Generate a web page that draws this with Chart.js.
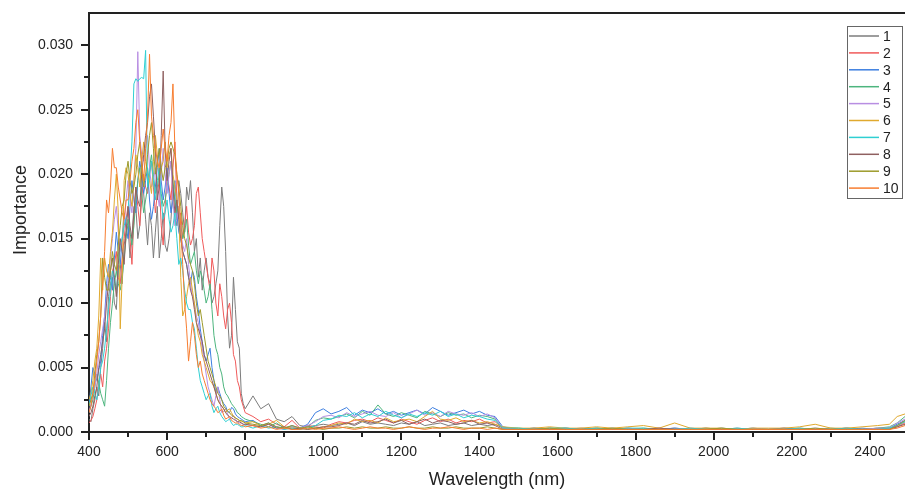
<!DOCTYPE html>
<html>
<head>
<meta charset="utf-8">
<script src="https://cdn.jsdelivr.net/npm/chart.js@4.4.1/dist/chart.umd.min.js"></script>
<style>
  html, body { margin: 0; padding: 0; background: #fff; overflow: hidden; }
  #wrap { width: 905px; height: 491px; }
</style>
</head>
<body>
<div id="wrap"><canvas id="spectra"></canvas></div>
<script>
// WAVELENGTHS (nm), shared by all series
const wavelengths = [
  400, 405, 410, 415, 420, 425, 430, 435, 440, 445,
  450, 455, 460, 465, 470, 475, 480, 485, 490, 495,
  500, 505, 510, 515, 520, 525, 530, 535, 540, 545,
  550, 555, 560, 565, 570, 575, 580, 585, 590, 595,
  600, 605, 610, 615, 620, 625, 630, 635, 640, 645,
  650, 655, 660, 665, 670, 675, 680, 685, 690, 695,
  700, 705, 710, 715, 720, 725, 730, 735, 740, 745,
  750, 755, 760, 765, 770, 775, 780, 785, 790, 795,
  800,
  820, 840, 860, 880, 900, 920, 940, 960, 980, 1000,
  1020, 1040, 1060, 1080, 1100, 1120, 1140, 1160, 1180, 1200, 1220,
  1240, 1260, 1280, 1300, 1320, 1340, 1360, 1380, 1400, 1420, 1440,
  1460,
  1500, 1540, 1580, 1620, 1660, 1700, 1740, 1780, 1820, 1860, 1900, 1940,
  1980, 2020, 2060, 2100, 2140, 2180, 2220, 2260, 2300, 2340, 2380, 2420,
  2450, 2470, 2490,
];

// IMPORTANCE VALUES, in units of 0.001
const imp1 = [
  1.0, 0.8, 1.8, 2.5, 3.5, 2.8, 5.0, 6.5, 8.5, 7.0,
  10.5, 11.5, 12.0, 10.0, 9.5, 12.5, 13.0, 11.5, 14.5, 15.5,
  16.0, 13.5, 15.0, 17.5, 17.5, 15.0, 16.0, 19.0, 18.5, 16.5,
  14.5, 17.0, 16.0, 13.5, 15.5, 17.5, 13.5, 15.0, 17.0, 14.5,
  14.0, 15.0, 16.5, 19.0, 18.0, 16.0, 19.5, 18.5, 17.0, 15.5,
  19.0, 18.0, 19.5, 17.0, 14.0, 15.0, 12.0, 13.5, 11.0, 12.5,
  13.5, 12.0, 11.5, 10.0, 10.5, 11.5, 12.5, 16.0, 19.0, 17.5,
  14.0, 9.0, 6.5, 7.5, 12.0, 9.5, 7.0, 6.5, 3.0, 2.2,
  1.8,
  2.8, 1.8, 2.2, 1.0, 0.8, 1.2, 0.5, 0.4, 0.5, 0.6,
  0.5, 0.6, 0.7, 0.5, 0.8, 0.6, 0.7, 0.6, 0.5, 0.7, 0.6,
  0.8, 0.5, 0.6, 0.7, 0.5, 0.6, 0.7, 0.5, 0.6, 0.5, 0.6,
  0.3,
  0.2, 0.3, 0.2, 0.2, 0.3, 0.2, 0.2, 0.3, 0.2, 0.2, 0.3, 0.2,
  0.2, 0.2, 0.3, 0.2, 0.2, 0.2, 0.3, 0.2, 0.2, 0.3, 0.2, 0.3,
  0.3, 0.5, 0.8,
];
const imp2 = [
  0.7, 0.9, 1.2, 1.8, 2.5, 3.8, 4.5, 3.5, 5.5, 6.5,
  8.0, 10.5, 12.5, 13.0, 14.0, 12.0, 11.5, 13.5, 15.0, 16.5,
  17.5, 15.0, 13.0, 16.5, 19.0, 17.5, 16.0, 18.0, 20.0, 19.0,
  18.5, 20.0, 21.0, 19.0, 17.0, 18.5, 19.5, 16.0, 14.5, 17.5,
  20.0, 19.0, 18.0, 20.5, 22.5, 18.0, 16.5, 17.0, 15.0, 16.0,
  17.5, 15.5, 14.5, 15.0, 16.0, 18.5, 19.0, 17.0, 15.0, 14.0,
  13.0, 12.0, 11.0, 13.5, 12.5, 10.0, 9.0, 11.5, 10.5, 9.0,
  8.0, 9.5, 10.0, 8.5, 6.0, 5.5, 4.0, 3.5, 2.5, 2.0,
  1.5,
  1.2, 0.8, 1.0, 0.6, 0.4, 0.9, 0.3, 0.5, 0.4, 0.3,
  0.6, 0.8, 0.7, 0.9, 1.0, 0.8, 1.1, 0.9, 0.7, 1.0, 0.8,
  0.6, 0.9, 1.1, 0.8, 1.0, 0.7, 0.9, 0.8, 1.0, 0.7, 0.8,
  0.3,
  0.2, 0.2, 0.3, 0.2, 0.2, 0.3, 0.2, 0.2, 0.2, 0.3, 0.2, 0.2,
  0.3, 0.2, 0.2, 0.2, 0.2, 0.3, 0.2, 0.2, 0.2, 0.3, 0.2, 0.2,
  0.3, 0.4, 0.7,
];
const imp3 = [
  2.0, 3.5, 5.0, 4.5, 4.0, 4.8, 5.5, 7.5, 9.0, 11.5,
  13.0, 12.0, 11.0, 13.5, 15.5, 14.0, 13.0, 15.0, 17.0, 16.0,
  15.0, 17.5, 19.5, 18.0, 17.0, 19.5, 21.0, 20.0, 18.5, 19.5,
  20.5, 18.0, 16.5, 17.5, 19.0, 20.5, 22.0, 19.5, 18.0, 19.0,
  20.5, 18.5, 17.0, 18.0, 19.5, 17.0, 15.5, 15.0, 14.0, 13.5,
  13.0, 12.0, 11.5, 12.5, 12.0, 10.5, 9.5, 8.0, 7.0, 6.0,
  5.5, 6.0, 6.5, 5.0, 4.0, 3.0, 3.5, 3.0, 2.5, 2.2,
  2.0, 1.6, 1.5, 1.9, 1.8, 1.4, 1.2, 1.1, 1.0, 0.9,
  0.8,
  0.9, 0.5, 0.7, 0.4, 0.3, 0.5, 0.3, 0.6, 1.5, 1.8,
  1.4, 1.6, 1.9, 1.3, 1.7, 1.5, 1.8, 1.4, 1.6, 1.3, 1.5,
  1.7, 1.4, 1.9, 1.6, 1.3, 1.5, 1.7, 1.4, 1.6, 1.3, 1.2,
  0.4,
  0.2, 0.3, 0.2, 0.3, 0.2, 0.2, 0.3, 0.2, 0.2, 0.2, 0.3, 0.2,
  0.2, 0.3, 0.2, 0.2, 0.2, 0.3, 0.2, 0.2, 0.2, 0.2, 0.3, 0.2,
  0.3, 0.6, 0.9,
];
const imp4 = [
  1.5, 2.0, 2.5, 3.5, 4.5, 3.8, 3.0, 2.5, 2.0, 4.0,
  6.5, 8.5, 10.0, 11.5, 12.5, 11.5, 11.0, 12.0, 13.5, 15.0,
  16.5, 15.5, 14.5, 16.0, 18.0, 19.5, 20.5, 18.5, 17.0, 18.0,
  19.0, 20.5, 21.5, 20.0, 18.5, 19.0, 20.0, 18.5, 17.5, 18.0,
  19.0, 20.0, 21.0, 19.5, 18.0, 17.0, 17.5, 16.0, 15.0, 15.5,
  16.5, 14.5, 13.0, 13.5, 14.0, 12.5, 11.5, 12.5, 12.0, 11.0,
  10.0, 10.5, 11.5, 9.5, 7.5, 6.5, 6.0, 5.0, 4.5, 3.5,
  3.0, 2.8, 2.5, 2.2, 2.0, 1.8, 1.5, 1.4, 1.2, 1.1,
  1.0,
  0.8, 0.6, 0.4, 0.7, 0.3, 0.4, 0.2, 0.4, 0.9, 1.1,
  1.0, 1.2, 1.4, 1.1, 1.6, 1.3, 2.1, 1.4, 1.2, 1.5, 1.3,
  1.1, 1.6, 1.4, 1.2, 1.5, 1.3, 1.4, 1.1, 1.3, 1.2, 1.0,
  0.3,
  0.3, 0.2, 0.2, 0.3, 0.2, 0.3, 0.2, 0.2, 0.3, 0.2, 0.2, 0.2,
  0.3, 0.2, 0.2, 0.3, 0.2, 0.2, 0.2, 0.2, 0.3, 0.2, 0.2, 0.3,
  0.4, 0.7, 1.2,
];
const imp5 = [
  1.5, 2.2, 3.0, 3.5, 4.5, 6.0, 7.0, 8.0, 9.0, 10.5,
  12.0, 13.5, 15.0, 16.5, 17.5, 15.5, 14.0, 15.0, 16.0, 18.0,
  19.5, 18.0, 17.0, 19.5, 22.0, 29.5, 23.0, 21.5, 21.0, 22.0,
  23.0, 20.5, 19.0, 19.5, 20.5, 18.5, 17.5, 20.0, 22.0, 20.0,
  18.5, 20.0, 21.0, 18.0, 16.0, 16.5, 17.5, 15.5, 14.5, 14.0,
  15.0, 13.0, 11.5, 10.5, 10.0, 9.0, 8.5, 7.5, 6.5, 5.5,
  4.5, 3.5, 3.0, 2.5, 2.0, 2.8, 3.5, 2.5, 1.5, 1.6,
  1.8, 1.4, 1.0, 1.1, 1.3, 1.0, 0.8, 0.7, 0.7, 0.6,
  0.6,
  0.5, 0.4, 0.6, 0.3, 0.2, 0.4, 0.3, 0.5, 0.8, 1.2,
  1.3, 1.1, 1.5, 1.2, 1.4, 1.6, 1.3, 1.2, 1.5, 1.1, 1.4,
  1.7, 1.3, 1.5, 1.2, 1.6, 1.4, 1.3, 1.5, 1.2, 1.4, 1.1,
  0.3,
  0.2, 0.2, 0.2, 0.3, 0.2, 0.2, 0.2, 0.3, 0.2, 0.2, 0.2, 0.3,
  0.2, 0.2, 0.2, 0.3, 0.2, 0.2, 0.2, 0.3, 0.2, 0.2, 0.2, 0.3,
  0.3, 0.7, 1.0,
];
const imp6 = [
  2.5, 3.0, 4.0, 5.5, 6.5, 9.0, 13.5, 11.0, 13.5, 12.5,
  12.0, 14.0, 15.5, 18.0, 20.0, 17.0, 8.0, 12.0, 19.5, 20.5,
  20.0, 18.5, 17.5, 19.5, 21.5, 20.5, 19.0, 21.0, 22.5, 21.0,
  20.0, 19.5, 18.5, 21.0, 23.0, 21.5, 19.5, 20.5, 21.0, 22.5,
  20.5, 21.5, 22.0, 20.0, 19.0, 18.0, 17.0, 12.0, 9.0, 9.5,
  10.5, 11.5, 12.0, 11.0, 10.0, 8.5, 7.5, 7.0, 6.0, 5.5,
  5.0, 4.5, 4.0, 3.8, 3.5, 3.0, 2.5, 2.2, 2.0, 1.8,
  1.5, 1.7, 1.8, 1.5, 1.2, 1.1, 1.0, 0.9, 0.8, 0.8,
  0.7,
  0.8, 0.5, 0.6, 0.9, 0.4, 0.3, 0.3, 0.2, 0.3, 0.4,
  0.5, 0.7, 0.6, 1.0, 0.8, 0.9, 0.7, 1.1, 0.8, 0.9, 1.0,
  0.8, 1.2, 1.6, 1.0, 0.9, 1.1, 0.8, 0.9, 0.7, 0.8, 0.6,
  0.4,
  0.3, 0.3, 0.4, 0.3, 0.3, 0.4, 0.3, 0.4, 0.5, 0.3, 0.7, 0.3,
  0.3, 0.3, 0.2, 0.3, 0.3, 0.3, 0.4, 0.6, 0.3, 0.3, 0.4, 0.5,
  0.6, 1.2, 1.4,
];
const imp7 = [
  2.0, 2.8, 3.5, 3.0, 2.5, 3.5, 5.0, 5.5, 6.5, 8.0,
  9.5, 11.0, 12.5, 12.0, 11.0, 12.5, 14.5, 15.0, 16.0, 16.5,
  17.0, 20.0, 22.5, 27.0, 27.4, 27.2, 27.4, 27.5, 27.4, 29.6,
  19.0, 20.0, 21.0, 19.5, 18.0, 19.5, 20.5, 18.0, 16.5, 17.0,
  18.0, 16.5, 15.5, 16.0, 17.0, 15.0, 13.0, 13.5, 12.5, 11.0,
  10.0, 9.5, 9.5, 8.5, 8.0, 6.5, 5.0, 4.0, 3.5, 3.0,
  2.5, 2.8, 3.0, 2.0, 1.5, 1.8, 2.0, 1.5, 1.2, 1.0,
  0.8, 0.9, 1.0, 0.7, 0.5, 0.6, 0.6, 0.5, 0.4, 0.4,
  0.5,
  0.3, 0.5, 0.3, 0.4, 0.2, 0.3, 0.2, 0.3, 0.5, 0.9,
  1.0, 1.3, 1.2, 1.5, 1.1, 1.4, 1.2, 1.6, 1.3, 1.1, 1.4,
  1.2, 1.5, 1.3, 1.6, 1.2, 1.4, 1.1, 1.3, 1.2, 1.0, 0.9,
  0.3,
  0.3, 0.2, 0.3, 0.3, 0.2, 0.3, 0.2, 0.3, 0.3, 0.2, 0.2, 0.3,
  0.2, 0.2, 0.3, 0.2, 0.2, 0.2, 0.3, 0.2, 0.2, 0.3, 0.2, 0.2,
  0.3, 0.5, 0.8,
];
const imp8 = [
  1.2, 1.5, 2.0, 2.8, 3.5, 5.0, 6.0, 7.0, 8.0, 10.0,
  11.5, 12.5, 13.5, 12.0, 10.5, 13.0, 15.0, 14.0, 13.0, 15.5,
  17.5, 16.0, 15.0, 17.0, 19.0, 18.0, 17.5, 20.0, 21.5, 23.0,
  24.0, 26.0, 27.0, 24.5, 22.0, 18.0, 19.0, 23.0, 28.0, 22.0,
  19.5, 21.0, 22.0, 19.0, 17.0, 18.0, 16.5, 15.0, 14.0, 13.5,
  13.0, 12.0, 11.0, 10.5, 9.5, 8.5, 8.0, 7.5, 7.0, 6.0,
  5.5, 5.0, 4.5, 4.0, 3.5, 3.0, 2.5, 2.2, 2.0, 1.8,
  1.5, 1.3, 1.2, 1.1, 1.0, 0.9, 0.8, 0.8, 0.7, 0.6,
  0.6,
  0.5, 0.4, 0.6, 0.3, 0.4, 0.2, 0.3, 0.2, 0.3, 0.4,
  0.4, 0.5, 0.7, 0.6, 0.9, 0.7, 0.8, 1.0, 0.7, 0.9, 0.6,
  0.8, 1.0, 0.7, 0.9, 0.8, 0.6, 0.7, 0.9, 0.6, 0.7, 0.5,
  0.2,
  0.2, 0.2, 0.2, 0.2, 0.2, 0.2, 0.2, 0.2, 0.2, 0.3, 0.2, 0.2,
  0.2, 0.2, 0.2, 0.2, 0.2, 0.2, 0.2, 0.2, 0.2, 0.2, 0.2, 0.2,
  0.2, 0.4, 0.6,
];
const imp9 = [
  2.0, 2.5, 3.0, 4.5, 6.0, 7.0, 9.0, 13.5, 12.0, 11.0,
  11.0, 12.5, 14.0, 13.0, 12.5, 14.5, 16.0, 17.5, 18.0, 20.0,
  21.0, 19.5, 18.5, 19.0, 20.0, 21.5, 22.5, 20.5, 19.0, 20.0,
  21.5, 23.0, 24.0, 22.0, 20.0, 21.0, 22.0, 20.5, 19.5, 20.5,
  21.0, 22.0, 22.5, 22.0, 21.5, 20.0, 19.0, 17.5, 16.0, 15.0,
  14.5, 13.5, 13.0, 12.5, 11.5, 10.0, 9.0, 9.5, 8.5, 7.5,
  6.5, 5.5, 5.0, 4.5, 4.0, 3.5, 3.0, 2.8, 2.5, 2.0,
  1.8, 1.6, 1.5, 1.3, 1.2, 1.1, 1.0, 0.9, 0.9, 0.8,
  0.7,
  0.6, 0.5, 0.7, 0.4, 0.3, 0.5, 0.3, 0.4, 0.3, 0.2,
  0.3, 0.3, 0.4, 0.3, 0.4, 0.3, 0.3, 0.4, 0.3, 0.3, 0.4,
  0.3, 0.3, 0.4, 0.3, 0.3, 0.4, 0.3, 0.3, 0.3, 0.4, 0.3,
  0.2,
  0.2, 0.2, 0.3, 0.2, 0.2, 0.2, 0.3, 0.2, 0.2, 0.2, 0.2, 0.2,
  0.2, 0.3, 0.2, 0.2, 0.2, 0.2, 0.2, 0.3, 0.2, 0.2, 0.2, 0.2,
  0.2, 0.5, 0.9,
];
const imp10 = [
  1.5, 2.0, 3.0, 4.0, 5.5, 7.0, 9.0, 11.5, 14.0, 18.0,
  17.0, 19.0, 22.0, 20.5, 20.5, 19.0, 18.0, 17.0, 16.5, 18.0,
  18.0, 19.5, 21.0, 22.0, 24.0, 25.0, 22.5, 21.0, 19.5, 22.0,
  24.5, 29.3, 24.5, 23.0, 22.0, 21.0, 20.5, 22.0, 23.5, 22.0,
  21.0, 23.0, 24.0, 27.0, 22.0, 20.0, 18.5, 16.0, 13.0, 10.0,
  8.0, 5.5, 7.0, 8.5, 7.5, 6.0, 5.0, 5.5, 4.5, 4.0,
  3.5, 3.0, 2.5, 2.2, 2.0, 1.8, 1.5, 1.6, 1.8, 1.3,
  1.0, 1.1, 1.2, 0.9, 0.8, 0.7, 0.7, 0.6, 0.5, 0.5,
  0.4,
  0.5, 0.3, 0.4, 0.2, 0.3, 0.2, 0.2, 0.3, 0.2, 0.3,
  0.3, 0.4, 0.3, 0.2, 0.3, 0.4, 0.3, 0.3, 0.2, 0.3, 0.4,
  0.3, 0.2, 0.3, 0.3, 0.4, 0.3, 0.2, 0.3, 0.3, 0.2, 0.3,
  0.2,
  0.2, 0.2, 0.2, 0.2, 0.2, 0.2, 0.2, 0.2, 0.2, 0.2, 0.2, 0.2,
  0.2, 0.2, 0.2, 0.2, 0.2, 0.2, 0.2, 0.2, 0.2, 0.2, 0.2, 0.2,
  0.2, 0.3, 0.5,
];

const series_names = ['1', '2', '3', '4', '5', '6', '7', '8', '9', '10'];
const series_values = [imp1, imp2, imp3, imp4, imp5, imp6, imp7, imp8, imp9, imp10];
const series_colors = [
  '#7c7c7c', '#f05a5a', '#3d7fe0', '#4db57e', '#b88ee2',
  '#e0a92e', '#2fcfd2', '#8f6060', '#9c9a2a', '#f77d30',
];

// AXIS TICKS
const x_ticks = [400, 500, 600, 700, 800, 900, 1000, 1100, 1200, 1300, 1400,
  1500, 1600, 1700, 1800, 1900, 2000, 2100, 2200, 2300, 2400];
const x_labels = [400, 600, 800, 1000, 1200, 1400, 1600, 1800, 2000, 2200, 2400];
const y_ticks = [0, 0.0025, 0.005, 0.0075, 0.01, 0.0125, 0.015, 0.0175,
  0.02, 0.0225, 0.025, 0.0275, 0.03];
const y_labels = [0, 0.005, 0.01, 0.015, 0.02, 0.025, 0.03];

const AXIS_COLOR = '#222';
const FONT = 'Liberation Sans, Arial, sans-serif';

function isLabelled(list, v) {
  return list.some(l => Math.abs(l - v) < 1e-9);
}

// ticks, top frame line and legend box
const frame_plugin = {
  id: 'frame',
  afterDraw(chart) {
    const { ctx, chartArea, scales } = chart;
    ctx.save();
    ctx.strokeStyle = AXIS_COLOR;
    ctx.lineWidth = 2;

    // top line
    ctx.beginPath();
    ctx.moveTo(chartArea.left, chartArea.top);
    ctx.lineTo(chartArea.right, chartArea.top);
    ctx.stroke();

    // x ticks (outward)
    x_ticks.forEach(v => {
      const px = Math.round(scales.x.getPixelForValue(v));
      const len = isLabelled(x_labels, v) ? 8 : 5;
      ctx.beginPath();
      ctx.moveTo(px, chartArea.bottom);
      ctx.lineTo(px, chartArea.bottom + len);
      ctx.stroke();
    });

    // y ticks (outward)
    y_ticks.forEach(v => {
      const py = Math.round(scales.y.getPixelForValue(v));
      const len = isLabelled(y_labels, v) ? 8 : 5;
      ctx.beginPath();
      ctx.moveTo(chartArea.left, py);
      ctx.lineTo(chartArea.left - len, py);
      ctx.stroke();
    });

    // legend
    const bx = 847, by = 26, bw = 55, bh = 172;
    ctx.lineWidth = 1;
    ctx.strokeStyle = '#666';
    ctx.strokeRect(bx + 0.5, by + 0.5, bw, bh);
    ctx.font = '14px ' + FONT;
    ctx.textBaseline = 'middle';
    ctx.fillStyle = AXIS_COLOR;
    chart.data.datasets.forEach((ds, i) => {
      const ry = by + 10 + i * 16.9;
      ctx.strokeStyle = ds.borderColor;
      ctx.lineWidth = 1.5;
      ctx.beginPath();
      ctx.moveTo(bx + 2, ry);
      ctx.lineTo(bx + 32, ry);
      ctx.stroke();
      ctx.fillText(ds.label, bx + 36, ry + 1);
    });
    ctx.restore();
  },
};

const datasets = series_names.map((name, i) => ({
  label: name,
  data: wavelengths.map((w, j) => ({ x: w, y: series_values[i][j] / 1000 })),
  borderColor: series_colors[i],
  backgroundColor: series_colors[i],
  borderWidth: 1,
  pointRadius: 0,
  tension: 0,
  fill: false,
  order: series_names.length - i,
}));

const ctx = document.getElementById('spectra').getContext('2d');
const my_chart = new Chart(ctx, {
  type: 'line',
  data: { datasets: datasets },
  plugins: [frame_plugin],
  options: {
    responsive: true,
    maintainAspectRatio: false,
    animation: false,
    layout: { padding: { top: 13, right: 0, left: 0, bottom: 0 } },
    plugins: {
      legend: { display: false },
      tooltip: { enabled: false },
    },
    scales: {
      x: {
        type: 'linear',
        min: 400,
        max: 2490,
        afterBuildTicks: s => {
          s.ticks = x_labels.map(v => ({ value: v }));
        },
        afterFit: s => {
          s.height = 59;
          s.paddingLeft = 0;
          s.paddingRight = 0;
        },
        grid: { display: false, drawTicks: false },
        border: { display: true, color: AXIS_COLOR, width: 2 },
        ticks: {
          autoSkip: false,
          maxRotation: 0,
          padding: 12,
          color: AXIS_COLOR,
          font: { family: FONT, size: 14 },
          callback: v => String(v),
        },
        title: {
          display: true,
          text: 'Wavelength (nm)',
          color: AXIS_COLOR,
          font: { family: FONT, size: 18 },
          padding: { top: 0, bottom: 0 },
        },
      },
      y: {
        min: 0,
        max: 0.0325,
        afterBuildTicks: s => {
          s.ticks = y_labels.map(v => ({ value: v }));
        },
        afterFit: s => {
          s.width = 89;
          s.paddingTop = 0;
          s.paddingBottom = 0;
        },
        grid: { display: false, drawTicks: false },
        border: { display: true, color: AXIS_COLOR, width: 2 },
        ticks: {
          autoSkip: false,
          padding: 16,
          color: AXIS_COLOR,
          font: { family: FONT, size: 14 },
          callback: v => v.toFixed(3),
        },
        title: {
          display: true,
          // leading spaces nudge the rotated title up, as in the original
          text: '     Importance',
          color: AXIS_COLOR,
          font: { family: FONT, size: 18 },
          padding: { top: 10, bottom: 0 },
        },
      },
    },
  },
});
</script>
</body>
</html>
